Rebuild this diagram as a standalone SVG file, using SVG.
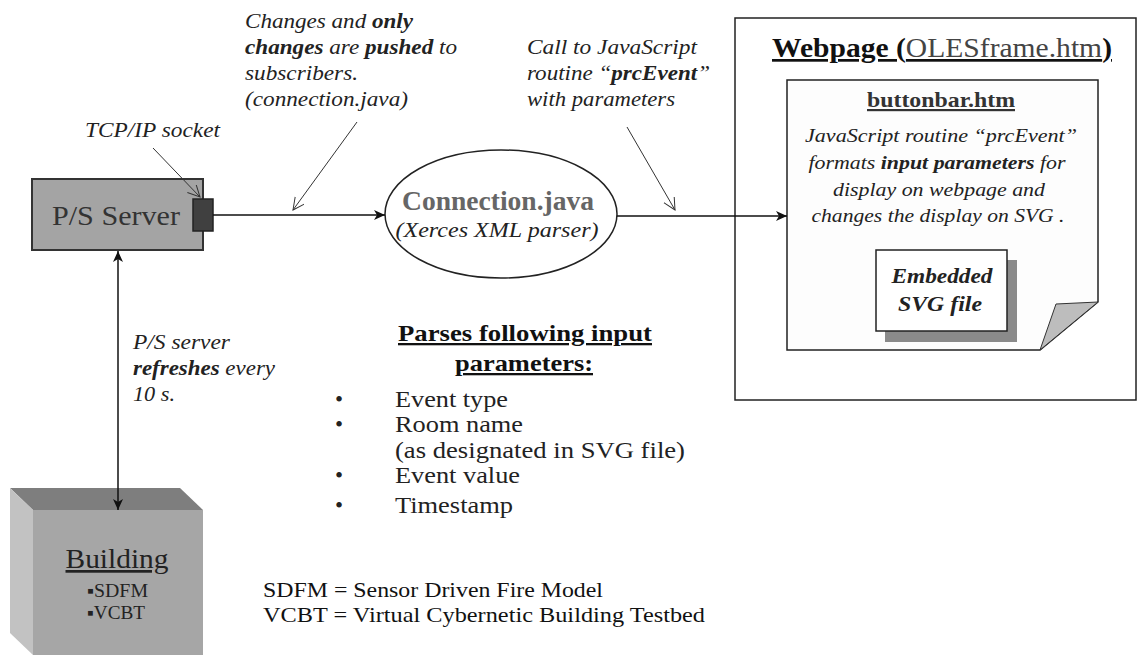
<svg xmlns="http://www.w3.org/2000/svg" width="1138" height="655" viewBox="0 0 1138 655" font-family="'Liberation Serif', 'Times New Roman', serif">
<style>
text{font-family:'Liberation Serif','Times New Roman',serif;}
.it{font-style:italic;fill:#222;}
.b{font-weight:bold;}
.conn{stroke:#111;stroke-width:1.5;fill:none;}
.ann{stroke:#333;stroke-width:1;fill:none;}
</style>
<defs>
<marker id="fill" markerUnits="userSpaceOnUse" markerWidth="12" markerHeight="10" refX="11" refY="5" orient="auto-start-reverse">
<path d="M0,0 L11,5 L0,10 L3,5 Z" fill="#111"/>
</marker>
<marker id="open" markerUnits="userSpaceOnUse" markerWidth="14" markerHeight="14" refX="12" refY="6" orient="auto">
<path d="M0,0 L12,6 L0,12" fill="none" stroke="#333" stroke-width="1"/>
</marker>
</defs>
<rect width="1138" height="655" fill="#fff"/>

<g id="webpage">
<rect x="735" y="18" width="401" height="382" fill="#fff" stroke="#222" stroke-width="1.5"/>
<text x="772" y="57" font-size="27" textLength="340" lengthAdjust="spacingAndGlyphs" text-decoration="underline" fill="#111"><tspan font-weight="bold">Webpage (</tspan><tspan fill="#444">OLESframe.htm</tspan><tspan font-weight="bold">)</tspan></text>
</g>

<g id="buttonbar">
<path d="M787,80 H1098 V302 L1040,350 H787 Z" fill="#fdfdfd" stroke="#222" stroke-width="1.5"/>
<path d="M1040,350 L1056,304 L1098,302 Z" fill="#bdbdbd" stroke="#333" stroke-width="1"/>
<text class="b" x="941" y="107" font-size="22" text-anchor="middle" textLength="148" lengthAdjust="spacingAndGlyphs" text-decoration="underline" fill="#333">buttonbar.htm</text>
<text class="it" x="941" y="142" font-size="19" text-anchor="middle" textLength="272" lengthAdjust="spacingAndGlyphs">JavaScript routine “prcEvent”</text>
<text class="it" x="937" y="169" font-size="19" text-anchor="middle" textLength="257" lengthAdjust="spacingAndGlyphs">formats <tspan class="b">input parameters</tspan> for</text>
<text class="it" x="939" y="196" font-size="19" text-anchor="middle" textLength="212" lengthAdjust="spacingAndGlyphs">display on webpage and</text>
<text class="it" x="938" y="222" font-size="19" text-anchor="middle" textLength="253" lengthAdjust="spacingAndGlyphs">changes the display on SVG .</text>
</g>

<g id="embedded-svg">
<rect x="885" y="260" width="132" height="82" fill="#8a8a8a"/>
<rect x="876" y="250" width="131" height="81" fill="#fff" stroke="#222" stroke-width="1.5"/>
<text class="it b" x="942" y="283" font-size="20" text-anchor="middle" textLength="101" lengthAdjust="spacingAndGlyphs">Embedded</text>
<text class="it b" x="940" y="311" font-size="20" text-anchor="middle" textLength="84" lengthAdjust="spacingAndGlyphs">SVG file</text>
</g>

<g id="ps-server">
<rect x="32" y="179" width="171" height="71" fill="#a4a4a4" stroke="#333" stroke-width="2"/>
<text x="52" y="225" font-size="28" textLength="128" lengthAdjust="spacingAndGlyphs" fill="#333">P/S Server</text>
<rect x="193" y="199" width="20" height="32" fill="#404040" stroke="#222" stroke-width="1.5"/>
</g>

<g id="connection-java">
<ellipse cx="501" cy="214" rx="116" ry="64" fill="#fff" stroke="#222" stroke-width="1.5"/>
<text class="b" x="498" y="210" font-size="27" text-anchor="middle" textLength="192" lengthAdjust="spacingAndGlyphs" fill="#666">Connection.java</text>
<text class="it" x="497" y="237" font-size="20" text-anchor="middle" textLength="203" lengthAdjust="spacingAndGlyphs">(Xerces XML parser)</text>
</g>

<g id="building">
<polygon points="10,488 180,488 203,510 33,510" fill="#7e7e7e"/>
<polygon points="10,488 33,510 33,655 10,633" fill="#c2c2c2"/>
<rect x="33" y="510" width="170" height="145" fill="#a6a6a6"/>
<text x="117" y="568" font-size="27" text-anchor="middle" textLength="103" lengthAdjust="spacingAndGlyphs" text-decoration="underline" fill="#222">Building</text>
<text x="87" y="597" font-size="19" textLength="61" lengthAdjust="spacingAndGlyphs" fill="#222">▪SDFM</text>
<text x="87" y="619" font-size="19" textLength="58" lengthAdjust="spacingAndGlyphs" fill="#222">▪VCBT</text>
</g>

<g id="connectors">
<line class="conn" x1="213" y1="215" x2="385" y2="215" marker-end="url(#fill)"/>
<line class="conn" x1="617" y1="216" x2="787" y2="216" marker-end="url(#fill)"/>
<line class="conn" x1="118" y1="251" x2="118" y2="510" marker-start="url(#fill)" marker-end="url(#fill)"/>
<line class="ann" x1="153" y1="148" x2="200" y2="197" marker-end="url(#open)"/>
<line class="ann" x1="357" y1="122" x2="293" y2="210" marker-end="url(#open)"/>
<line class="ann" x1="627" y1="127" x2="675" y2="210" marker-end="url(#open)"/>
</g>

<g id="labels">
<text class="it" x="85" y="137" font-size="20" textLength="135" lengthAdjust="spacingAndGlyphs">TCP/IP socket</text>
<text class="it" x="245" y="28" font-size="20" textLength="168" lengthAdjust="spacingAndGlyphs">Changes and <tspan class="b">only</tspan></text>
<text class="it" x="245" y="54" font-size="20" textLength="212" lengthAdjust="spacingAndGlyphs"><tspan class="b">changes</tspan> are <tspan class="b">pushed</tspan> to</text>
<text class="it" x="245" y="80" font-size="20" textLength="113" lengthAdjust="spacingAndGlyphs">subscribers.</text>
<text class="it" x="245" y="106" font-size="20" textLength="163" lengthAdjust="spacingAndGlyphs">(connection.java)</text>
<text class="it" x="527" y="54" font-size="20" textLength="170" lengthAdjust="spacingAndGlyphs">Call to JavaScript</text>
<text class="it" x="527" y="80" font-size="20" textLength="183" lengthAdjust="spacingAndGlyphs">routine “<tspan class="b">prcEvent</tspan>”</text>
<text class="it" x="527" y="106" font-size="20" textLength="148" lengthAdjust="spacingAndGlyphs">with parameters</text>
<text class="it" x="133" y="349" font-size="20" textLength="97" lengthAdjust="spacingAndGlyphs">P/S server</text>
<text class="it" x="133" y="375" font-size="20" textLength="142" lengthAdjust="spacingAndGlyphs"><tspan class="b">refreshes</tspan> every</text>
<text class="it" x="133" y="401" font-size="20" textLength="42" lengthAdjust="spacingAndGlyphs">10 s.</text>
</g>

<g id="parses">
<text class="b" x="525" y="341" font-size="23" text-anchor="middle" textLength="254" lengthAdjust="spacingAndGlyphs" text-decoration="underline" fill="#111">Parses following input</text>
<text class="b" x="524" y="371" font-size="23" text-anchor="middle" textLength="138" lengthAdjust="spacingAndGlyphs" text-decoration="underline" fill="#111">parameters:</text>
<g font-size="23" fill="#222">
<text x="335" y="407">•</text>
<text x="395" y="407" textLength="113" lengthAdjust="spacingAndGlyphs">Event type</text>
<text x="335" y="432">•</text>
<text x="395" y="432" textLength="128" lengthAdjust="spacingAndGlyphs">Room name</text>
<text x="395" y="458" textLength="290" lengthAdjust="spacingAndGlyphs">(as designated in SVG file)</text>
<text x="335" y="483">•</text>
<text x="395" y="483" textLength="125" lengthAdjust="spacingAndGlyphs">Event value</text>
<text x="335" y="513">•</text>
<text x="395" y="513" textLength="118" lengthAdjust="spacingAndGlyphs">Timestamp</text>
</g>
</g>

<g id="legend" font-size="22" fill="#111">
<text x="263" y="597" textLength="340" lengthAdjust="spacingAndGlyphs">SDFM = Sensor Driven Fire Model</text>
<text x="263" y="622" textLength="442" lengthAdjust="spacingAndGlyphs">VCBT = Virtual Cybernetic Building Testbed</text>
</g>
</svg>
